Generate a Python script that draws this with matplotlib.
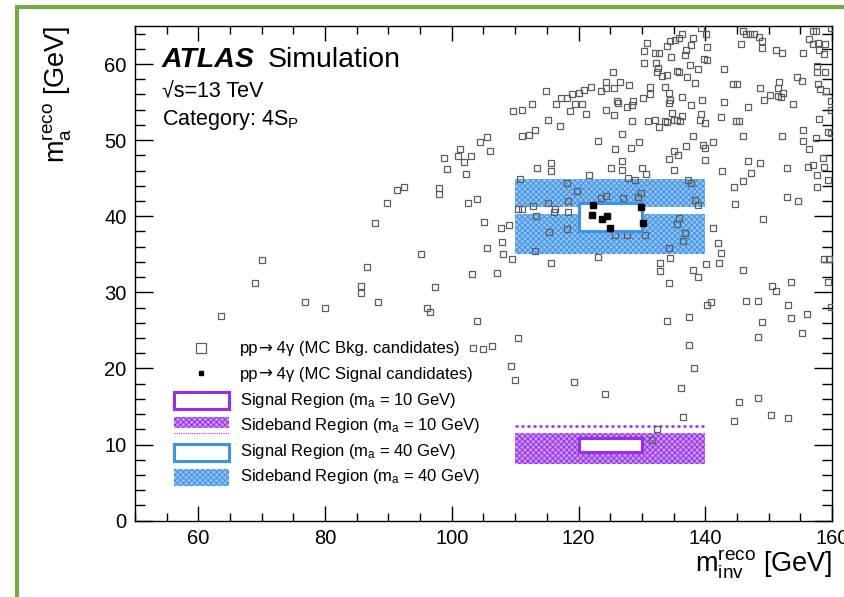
import numpy as np
import matplotlib
matplotlib.use("Agg")
import matplotlib.pyplot as plt
from matplotlib.lines import Line2D
from matplotlib.patches import Rectangle

plt.rcParams["font.family"] = ["Liberation Sans", "DejaVu Sans"]
plt.rcParams["mathtext.fontset"] = "custom"
plt.rcParams["mathtext.rm"] = "Liberation Sans"
plt.rcParams["mathtext.it"] = "Liberation Sans:italic"
plt.rcParams["mathtext.bf"] = "Liberation Sans:bold"
plt.rcParams["hatch.linewidth"] = 0.7

# MC background candidates (m_inv, m_a) in GeV
bkg_x = [
    139.3, 140.1, 136.4, 135.9, 135.3, 134.5, 134.0, 138.1, 137.8, 136.9, 136.8, 130.8,
    130.3, 132.0, 132.7, 134.6, 140.3, 139.8, 140.2, 130.4, 132.3, 132.6, 137.6, 138.8,
    135.5, 135.8, 132.4, 133.9, 133.1, 137.1, 138.4, 142.9, 145.9, 146.5, 147.1, 147.7,
    148.5, 149.0, 145.7, 148.9, 151.1, 152.1, 155.4, 157.0, 157.5, 159.8, 156.4, 157.0,
    157.8, 158.9, 158.0, 158.8, 157.7, 157.7, 158.9, 154.5, 155.2, 151.6, 157.8, 158.1,
    159.1, 151.5, 152.3, 151.4, 152.0, 150.2, 149.2, 148.7, 153.9, 159.9, 159.9, 144.3,
    145.0, 146.8, 143.0, 142.5, 144.8, 145.4, 146.0, 152.1, 157.9, 159.4, 159.9, 155.5,
    155.4, 157.5, 156.3, 158.6, 157.0, 156.2, 158.7, 157.6, 159.4, 157.6, 152.9, 154.7,
    152.9, 146.8, 148.7, 147.2, 146.0, 144.5, 144.7, 149.1, 142.6, 141.2, 140.0, 139.7,
    140.0, 138.1, 136.9, 135.7, 135.0, 134.2, 135.0, 139.3, 139.2, 140.0, 136.4, 136.0,
    135.5, 135.1, 134.7, 134.0, 133.6, 132.0, 132.7, 131.0, 128.4, 126.9, 129.6, 128.2,
    125.8, 126.9, 125.2, 126.8, 130.0, 130.6, 127.8, 128.9, 137.3, 137.7, 136.4, 137.7,
    139.5, 134.5, 134.3, 134.3, 133.6, 131.3, 131.3, 130.2, 128.6, 128.4, 127.7, 126.0,
    126.2, 124.3, 125.6, 127.9, 124.3, 124.3, 125.6,
    110.7, 115.7, 121.7, 118.1, 119.7, 123.6, 124.4, 127.0, 129.8, 129.4, 138.3, 138.9,
    110.5, 111.1, 112.8, 115.2, 118.4, 116.1, 116.3, 118.3, 113.3, 135.8, 135.5, 136.8,
    141.2, 136.5, 142.0, 115.3, 118.2, 125.8, 127.6, 130.5, 113.1, 107.9, 109.5, 123.1,
    132.8, 134.4, 134.2, 140.1, 142.5,
    103.3, 105.0, 106.4, 136.5, 132.4, 131.6,
    63.6, 69.0, 70.1, 76.9, 80.0, 85.7, 85.7, 86.6, 87.8, 88.4, 89.7, 91.4,
    92.5, 95.2, 96.1, 96.6, 97.4, 97.9, 98.0, 98.7, 99.3, 101.0, 101.3, 102.0,
    102.3, 103.1, 104.5, 102.6, 104.0, 103.2, 104.0, 105.1, 105.5, 105.5, 106.1, 107.2,
    107.7, 108.1, 109.1, 109.4, 110.0, 110.5, 109.7, 111.0, 111.1, 112.2, 112.7, 113.2,
    113.5, 114.8, 115.2, 115.6, 115.7, 116.5, 117.0, 117.3, 118.1, 118.7, 118.9, 119.5,
    120.0, 120.5, 120.9, 121.2, 121.9, 123.0, 123.5, 124.1, 125.5, 126.6,
    146.0, 146.5, 148.4, 148.9, 148.4, 150.6, 151.2, 153.6, 153.1, 153.6, 155.3, 156.1,
    158.8, 159.6, 159.3, 159.9, 148.4, 150.3, 153.0, 144.6, 145.3, 138.2, 136.1, 137.5,
    133.9, 137.5, 132.9, 134.2, 138.0, 138.8, 140.9, 140.2, 142.1, 119.3,
]
bkg_y = [
    64.8, 64.0, 64.0, 63.4, 63.1, 63.0, 62.4, 63.4, 62.5, 61.9, 61.2, 62.8,
    61.7, 61.5, 61.4, 60.9, 62.3, 60.7, 60.5, 60.2, 60.1, 59.5, 59.9, 59.3,
    59.1, 59.0, 59.0, 58.5, 58.4, 58.3, 57.5, 59.4, 64.3, 63.9, 64.0, 64.0,
    63.6, 63.0, 62.7, 62.1, 61.9, 61.4, 61.4, 64.3, 64.3, 64.7, 63.3, 62.6,
    62.8, 62.6, 61.9, 61.3, 59.7, 58.9, 59.0, 58.3, 57.8, 57.6, 57.4, 56.7,
    56.5, 56.8, 56.2, 55.8, 55.7, 55.9, 55.3, 56.9, 54.8, 55.1, 53.9, 57.4,
    57.4, 54.4, 55.0, 53.1, 52.5, 52.5, 50.6, 50.6, 52.8, 51.1, 51.0, 51.3,
    49.9, 50.3, 48.9, 47.7, 46.8, 46.5, 46.5, 45.4, 44.8, 43.9, 46.3, 42.0,
    42.5, 47.2, 47.0, 45.7, 44.6, 43.8, 41.6, 39.7, 45.9, 49.7, 49.0, 49.3,
    47.4, 50.6, 49.2, 48.0, 48.6, 47.5, 46.1, 53.5, 52.7, 52.3, 53.2, 52.5,
    52.7, 52.7, 53.6, 52.4, 52.5, 52.6, 51.7, 52.5, 52.5, 50.8, 49.7, 49.0,
    48.8, 47.2, 46.4, 46.1, 46.4, 45.5, 45.0, 44.7, 44.8, 44.4, 55.7, 54.6,
    55.3, 55.3, 54.9, 56.2, 57.0, 57.0, 56.1, 55.6, 55.2, 54.6, 54.4, 55.1,
    54.9, 54.0, 53.3, 57.2, 57.7, 56.8, 56.8,
    44.9, 45.9, 45.4, 44.4, 43.3, 42.4, 42.6, 42.4, 43.0, 42.5, 42.1, 41.5,
    41.0, 40.9, 41.3, 41.8, 42.0, 40.5, 40.9, 40.5, 40.1, 39.8, 39.0, 37.8,
    38.4, 36.7, 36.5, 37.9, 38.3, 37.5, 37.6, 37.5, 35.5, 36.6, 34.4, 34.6,
    33.9, 34.5, 35.8, 33.7, 35.2,
    22.7, 22.6, 22.9, 13.6, 12.0, 10.6,
    26.9, 31.2, 34.3, 28.7, 27.9, 30.9, 29.9, 33.4, 39.1, 28.8, 41.7, 43.4,
    43.9, 35.0, 28.0, 27.4, 30.7, 43.7, 42.9, 47.7, 46.2, 47.9, 48.9, 47.1,
    45.6, 47.9, 49.8, 41.8, 42.3, 32.4, 26.3, 39.2, 35.8, 50.4, 48.6, 32.6,
    38.4, 35.0, 38.9, 20.3, 18.5, 24.0, 53.8, 53.9, 50.6, 50.7, 54.8, 51.3,
    46.4, 56.4, 52.7, 33.9, 47.0, 54.8, 51.8, 55.5, 55.6, 53.8, 56.0, 54.8,
    56.2, 54.8, 56.6, 53.5, 57.0, 49.9, 56.5, 16.6, 59.0, 57.6,
    32.9, 28.9, 28.9, 26.1, 24.2, 30.9, 30.2, 31.3, 28.4, 26.6, 24.6, 27.2,
    34.4, 34.4, 31.3, 28.1, 16.1, 13.9, 13.5, 13.1, 15.6, 20.0, 17.4, 23.1,
    26.2, 26.7, 32.8, 31.2, 32.9, 32.0, 28.8, 28.3, 33.8, 18.2,
]

# MC signal candidates (m_a = 40 GeV)
sig_x = [122.3, 122.2, 123.7, 124.5, 124.9, 129.8, 130.2]
sig_y = [41.5, 40.2, 39.7, 40.0, 38.5, 41.2, 39.1]

# Region definitions: (x_lo, x_hi, y_lo, y_hi)
sr_10 = (120, 130, 9.0, 10.9)
sb_10 = (110, 140, 7.5, 11.5)
sb_10_line = 12.4
sr_40 = (120, 130, 38.0, 41.8)
sb_40_lo = (110, 140, 35.0, 40.3)
sb_40_hi = (110, 140, 41.2, 44.9)

purple = "#9a2bf0"
blue = "#3c93ea"
green = "#70ad47"
blue_face = "#93c2f0"
purple_face = "#c99bf5"

fig = plt.figure(figsize=(8.45, 5.97), dpi=100)
W, H = 845.0, 597.0
ax = fig.add_axes([135 / W, 1 - 520.7 / H, (832 - 135) / W, (520.7 - 26) / H])


def band(box, color, face):
    x0, x1, y0, y1 = box
    ax.fill_between([x0, x1], y0, y1, facecolor=face, edgecolor=color,
                    hatch="xxxxxx", linewidth=0, zorder=1)


def region(box, color):
    x0, x1, y0, y1 = box
    ax.add_patch(Rectangle((x0, y0), x1 - x0, y1 - y0, facecolor="white",
                           edgecolor=color, linewidth=2.2, zorder=4))


band(sb_40_lo, blue, blue_face)
band(sb_40_hi, blue, blue_face)
band(sb_10, purple, purple_face)
ax.hlines(sb_10_line, sb_10[0], sb_10[1], colors=purple, linestyles=(0, (1.2, 1.2)),
          linewidth=1.8, zorder=1)

ax.plot(bkg_x, bkg_y, ls="none", marker="s", ms=4.5, mfc="none", mec="#5e5e5e",
        mew=0.9, zorder=3)
region(sr_40, blue)
region(sr_10, purple)
ax.plot(sig_x, sig_y, ls="none", marker="s", ms=4.0, color="black", zorder=5)

ax.set_xlim(50, 160)
ax.set_ylim(0, 65)
ax.set_xticks(np.arange(60, 161, 20))
ax.set_xticks(np.arange(50, 161, 5), minor=True)
ax.set_yticks(np.arange(0, 61, 10))
ax.set_yticks(np.arange(0, 65, 2), minor=True)
ax.tick_params(which="both", direction="in", top=True, right=True, labelsize=14.5,
               width=1.0, colors="black", pad=6)
ax.tick_params(axis="x", which="major", length=11)
ax.tick_params(axis="x", which="minor", length=5.5)
ax.tick_params(axis="y", which="major", length=13)
ax.tick_params(axis="y", which="minor", length=7)
for s in ax.spines.values():
    s.set_linewidth(1.0)

ax.set_xlabel(r"m$_{\mathrm{inv}}^{\mathrm{reco}}$ [GeV]", fontsize=19.5, loc="right",
              labelpad=0)
ax.set_ylabel(r"m$_{\mathrm{a}}^{\mathrm{reco}}$ [GeV]", fontsize=19.5, loc="top",
              labelpad=22)


def fx(px):
    return px / W


def fy(py):
    return 1 - py / H


# ATLAS label block
fig.text(fx(162), fy(67), "ATLAS", fontsize=20.5, fontweight="bold", style="italic",
         va="baseline")
fig.text(fx(268), fy(67), "Simulation", fontsize=20.5, va="baseline")
fig.text(fx(162), fy(97), "\u221as=13 TeV", fontsize=15.5, va="baseline")
fig.text(fx(162), fy(125), r"Category: 4S$_{\mathrm{P}}$", fontsize=15.5, va="baseline")

# legend drawn by hand; text baselines in pixels from the top
baselines = [353.5 + 25.6 * i for i in range(6)]
renderer = fig.canvas.get_renderer()


def arrow_label(py, tail):
    # "pp" + long arrow + the rest, set piece by piece
    x = 240.0
    for piece, fam in (("pp", None), ("\u2192", "DejaVu Sans"), (tail, None)):
        t = fig.text(fx(x), fy(py), piece, fontsize=12, va="baseline",
                     family=fam if fam else ["Liberation Sans", "DejaVu Sans"])
        x += t.get_window_extent(renderer).width


arrow_label(baselines[0], " 4\u03b3 (MC Bkg. candidates)")
arrow_label(baselines[1], " 4\u03b3 (MC Signal candidates)")
region_labels = [
    r"Signal Region (m$_{\mathrm{a}}$ = 10 GeV)",
    r"Sideband Region (m$_{\mathrm{a}}$ = 10 GeV)",
    r"Signal Region (m$_{\mathrm{a}}$ = 40 GeV)",
    r"Sideband Region (m$_{\mathrm{a}}$ = 40 GeV)",
]
for py, lab in zip(baselines[2:], region_labels):
    fig.text(fx(240), fy(py), lab, fontsize=12, va="baseline")

fig.add_artist(Line2D([fx(200.7)], [fy(348.3)], ls="none", marker="s", ms=7,
                      mfc="none", mec="#5e5e5e", mew=0.9))
fig.add_artist(Line2D([fx(200.7)], [fy(373.3)], ls="none", marker="s", ms=3.5,
                      color="black"))


def swatch(top, bottom, col, face):
    if face is None:
        fig.add_artist(Rectangle((fx(174), fy(bottom)), (229 - 174) / W,
                                 (bottom - top) / H, transform=fig.transFigure,
                                 facecolor="white", edgecolor=col, linewidth=2.2))
    else:
        fig.add_artist(Rectangle((fx(174), fy(bottom)), (229 - 174) / W,
                                 (bottom - top) / H, transform=fig.transFigure,
                                 facecolor=face, edgecolor=col, hatch="xxxxxx",
                                 linewidth=0))


swatch(391.5, 408.5, purple, None)
swatch(417, 428, purple, purple_face)
swatch(443.5, 460.5, blue, None)
swatch(469, 486, blue, blue_face)
fig.add_artist(Line2D([fx(174), fx(229)], [fy(433), fy(433)], color=purple, lw=0.8,
                      ls=(0, (1, 1))))

# green frame
fig.add_artist(Line2D([fx(15), fx(845)], [fy(7), fy(7)], color=green, lw=3.0,
                      solid_capstyle="butt"))
fig.add_artist(Line2D([fx(17), fx(17)], [fy(5.5), fy(597)], color=green, lw=3.0,
                      solid_capstyle="butt"))

fig.savefig("out.png", dpi=100)
